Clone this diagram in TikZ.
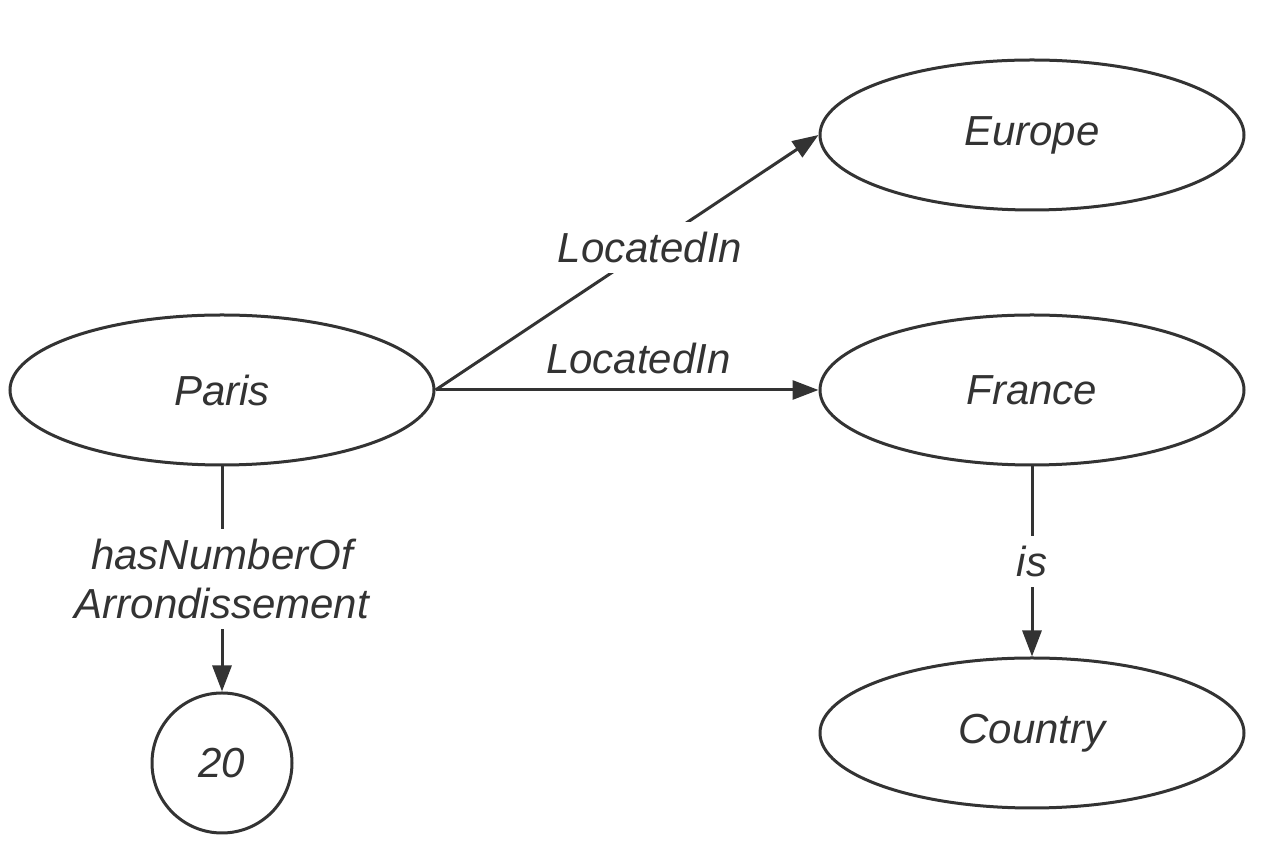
\documentclass[tikz,border=0pt]{standalone}
\usepackage{fontspec}
\setmainfont{Liberation Sans}
\usetikzlibrary{shapes.geometric,arrows.meta}
\definecolor{ink}{HTML}{333333}

\begin{document}
\begin{tikzpicture}[x=0.5pt,y=0.5pt,
        every node/.style={font=\itshape\fontsize{21pt}{24.5pt}\selectfont,text=ink},
        entity/.style={ellipse,draw=ink,line width=1.5pt,minimum width=212pt,minimum height=75pt,inner sep=0pt},
        value/.style={circle,draw=ink,line width=1.5pt,minimum size=70pt,inner sep=0pt},
        rel/.style={draw=ink,line width=1.5pt,-{Triangle[length=13pt,width=9.5pt]}},
        lbl/.style={fill=white,inner sep=5pt,align=center}]
        \useasboundingbox (0,0) rectangle (1282,862);

        % entities
        \node[entity] (paris) at (222,472) {Paris};
        \node[entity] (europe) at (1032,727) {Europe};
        \node[entity] (france) at (1032,472) {France};
        \node[entity] (country) at (1032,129) {Country};
        \node[value] (num) at (222,99) {20};

        % relations
        \draw[rel] (paris.east) -- node[lbl,pos=0.56] {LocatedIn} (europe.west);
        \draw[rel] (paris.east) -- node[above=4pt,pos=0.53] {LocatedIn} (france.west);
        \draw[rel] (paris) -- node[lbl] {hasNumberOf\\Arrondissement} (num);
        \draw[rel] (france) -- node[lbl] {is} (country);
    \end{tikzpicture}
\end{document}
